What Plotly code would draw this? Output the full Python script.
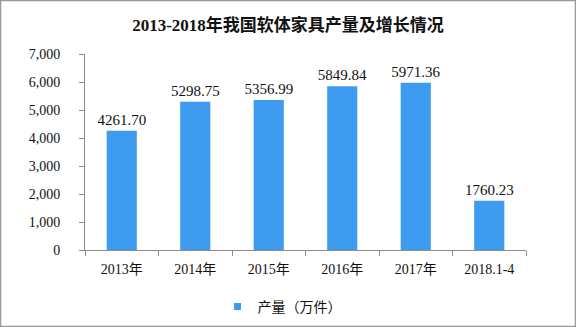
import plotly.graph_objects as go

# Soft furniture output, 10k pieces
categories = ["2013年", "2014年", "2015年", "2016年", "2017年", "2018.1-4"]
output = [4261.70, 5298.75, 5356.99, 5849.84, 5971.36, 1760.23]
y_ticks = [0, 1000, 2000, 3000, 4000, 5000, 6000, 7000]
series_name = "产量（万件）"

bar_color = "#3d9cf0"
font_family = "Liberation Serif, Noto Sans CJK SC, serif"

fig = go.Figure()
fig.add_trace(go.Bar(
    x=categories,
    y=output,
    name=series_name,
    marker=dict(color=bar_color, line=dict(width=0)),
    width=0.41,
    text=[f"{v:.2f}" for v in output],
    textposition="outside",
    constraintext="none",
    textfont=dict(size=15, color="#111111", family=font_family),
    cliponaxis=False,
    showlegend=False,
))
# Small square legend key
fig.add_trace(go.Scatter(
    x=[None], y=[None],
    mode="markers",
    name=series_name,
    marker=dict(symbol="square", size=7, color=bar_color),
    showlegend=True,
))

fig.update_layout(
    width=576,
    height=327,
    margin=dict(l=85, r=50, t=54, b=77, autoexpand=False),
    paper_bgcolor="white",
    plot_bgcolor="white",
    title=dict(
        text="<b>2013-2018年我国软体家具产量及增长情况</b>",
        x=0.5,
        xanchor="center",
        y=1 - 25 / 327,
        yanchor="middle",
        font=dict(size=17, color="#111111", family=font_family),
    ),
    font=dict(family=font_family, color="#111111"),
    showlegend=True,
    legend=dict(
        orientation="h",
        x=0.5 - 6 / 576,
        xanchor="center",
        xref="container",
        y=1 - 307 / 327,
        yanchor="middle",
        yref="container",
        font=dict(size=14, family="Noto Sans CJK SC"),
        itemwidth=30,
    ),
    bargap=0.59,
    shapes=[dict(
        type="rect", xref="paper", yref="paper",
        x0=-84.5 / 441, x1=1 + 49.5 / 441, y0=-76.5 / 196, y1=1 + 53.5 / 196,
        line=dict(color="#999999", width=1.5), fillcolor="rgba(0,0,0,0)",
    )],
)

fig.update_xaxes(
    showline=True,
    linecolor="#8c8c8c",
    linewidth=1,
    ticks="outside",
    tickson="boundaries",
    ticklen=5,
    tickcolor="#8c8c8c",
    tickfont=dict(size=14),
    ticklabelstandoff=6,
    showgrid=False,
)
fig.update_yaxes(
    range=[0, 7000],
    tickvals=y_ticks,
    tickformat=",",
    showline=True,
    linecolor="#8c8c8c",
    linewidth=1,
    ticks="outside",
    ticklen=5,
    tickcolor="#8c8c8c",
    tickfont=dict(size=14),
    ticklabelstandoff=16,
    showgrid=False,
    zeroline=False,
)

fig.write_html("out.html")
